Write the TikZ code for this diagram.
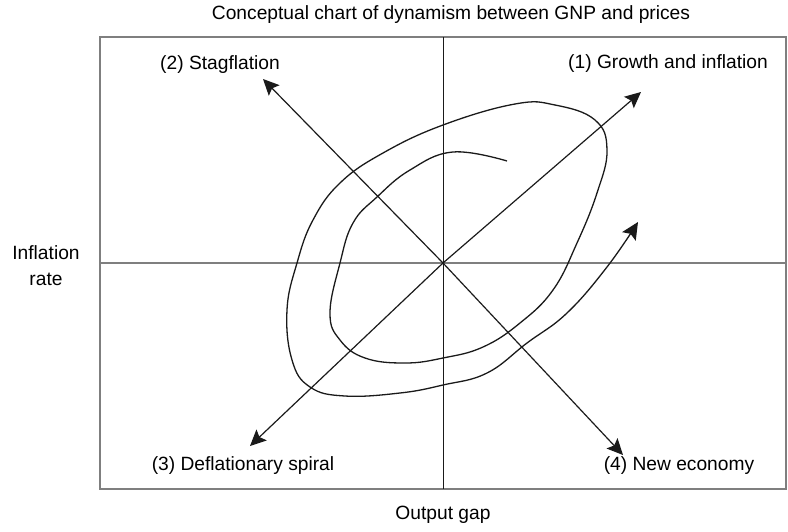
\documentclass[tikz,border=0pt]{standalone}
\usepackage{fontspec}
\setmainfont{Liberation Sans}
\usetikzlibrary{arrows.meta,positioning,calc}
\definecolor{bk90}{HTML}{1A1A1A}
\definecolor{bk50}{HTML}{7F7F7F}
\tikzset{
  framebox/.style={draw=bk50, line width=0.65pt},
  axisline/.style={draw=#1, line width=0.5pt},
  axisline/.default=bk90,
  quadarrow/.style={
    -{Stealth[length=8pt, width=7.5pt, inset=1.5pt]}, line width=0.6pt, color=bk90
  },
  spiral/.style={
    line width=0.65pt, color=bk90
  },
  labelnode/.style={
    font=\fontsize{9.6}{13}\selectfont, color=black, align=center, inner sep=0pt
  },
}

\begin{document}
\begin{tikzpicture}[x=0.5pt, y=-0.5pt]
\useasboundingbox (0,0) rectangle (788,531);
% frame and axes
\draw[framebox] (100,37) rectangle (786,489);
\coordinate (origin) at (443,263);
\draw[axisline=bk50, line width=0.65pt] (100,263) -- (786,263);
\draw[axisline] (443,37) -- (443,489);
% texts
\node[labelnode] (title) at (451,15) {Conceptual chart of dynamism between GNP and prices};
\node[labelnode] (ylab) at (46,266) {Inflation\\rate};
\node[labelnode] (xlab) at (443,515) {Output gap};
\node[labelnode] (q1) at (668,64) {(1) Growth and inflation};
\node[labelnode] (q2) at (220,65) {(2) Stagflation};
\node[labelnode] (q3) at (243,466) {(3) Deflationary spiral};
\node[labelnode] (q4) at (679,466) {(4) New economy};
% arrow tips
\coordinate (t1) at (641,92);
\coordinate (t2) at (263,79);
\coordinate (t3) at (250,446);
\coordinate (t4) at (623,455);
\foreach \t in {t1,t2,t3,t4}
  \draw[quadarrow] (origin) -- (\t);
% spiral
\draw[spiral, -{Stealth[length=8.5pt, width=8pt, inset=1.5pt]}] plot[smooth, tension=0.7] coordinates {
  (507,161) (453,152) (410,170) (377,197) (353,223)
  (340,263) (330,313) (340,340) (365,358) (405,363) (443,358) (483,347)
  (520,323) (553,290) (577,243) (597,193) (607,150) (595,120)
  (555,105) (515,104) (443,125) (383,153) (340,183) (313,220) (297,263)
  (287,310) (292,360) (310,387) (345,396) (400,393) (443,385)
  (487,373) (527,343) (567,313) (607,267) (638,222)
};
\end{tikzpicture}
\end{document}
